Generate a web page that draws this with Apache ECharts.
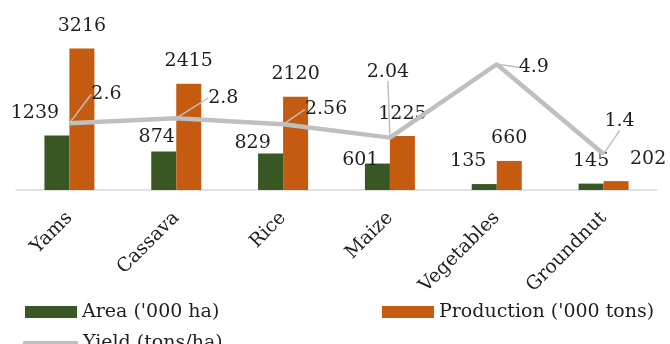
<!DOCTYPE html>
<html>
<head>
<meta charset="utf-8">
<script src="https://cdn.jsdelivr.net/npm/echarts@6/dist/echarts.min.js"></script>
<style>
html,body{margin:0;padding:0;background:#fff;}
#chart{width:670px;height:344px;}
</style>
</head>
<body>
<div id="chart"></div>
<script>
// ---- data ----
const categories = ['Yams', 'Cassava', 'Rice', 'Maize', 'Vegetables', 'Groundnut'];
const areaValues = [1239, 874, 829, 601, 135, 145];          // '000 ha
const productionValues = [3216, 2415, 2120, 1225, 660, 202];  // '000 tons
const yieldValues = [2.6, 2.8, 2.56, 2.04, 4.9, 1.4];         // tons/ha
const seriesNames = ["Area ('000 ha)", "Production ('000 tons)", 'Yield (tons/ha)'];

// ---- label nudges (styling only) ----
const areaLabelOffsets = [[-22, 0], [-7, 8], [-18, 12], [-17, 19], [-16, 0], [0, 0]];
const prodLabelOffsets = [[0, 0], [0, 0], [0, 0], [0, 0], [0, 0], [32, 0]];
const yieldLabelOffsets = [[37, -14], [47, -5], [43, 0], [-2, -51], [37, 18], [16, -18]];

const FONT = 'DejaVu Serif';
const TXT = '#1f1f1f';
const GREEN = '#385723';
const ORANGE = '#c55a11';
const GRAY = '#bfbfbf';

const chart = echarts.init(document.getElementById('chart'), null, {renderer: 'canvas'});

const labelBase = {show: true, position: 'top', distance: 13, color: TXT, fontFamily: FONT, fontSize: 19};

chart.setOption({
  animation: false,
  backgroundColor: '#fff',
  grid: {left: 16, right: 13, top: 36, bottom: 154, containLabel: false},
  legend: [
    {data: [seriesNames[0]], left: 20, top: 297, itemWidth: 52, itemHeight: 12, icon: 'rect',
     textStyle: {fontFamily: FONT, fontSize: 19, color: TXT, lineHeight: 20}},
    {data: [seriesNames[1]], left: 377, top: 297, itemWidth: 52, itemHeight: 12, icon: 'rect',
     textStyle: {fontFamily: FONT, fontSize: 19, color: TXT, lineHeight: 20}},
    {data: [seriesNames[2]], left: 18, top: 328, itemWidth: 55, itemHeight: 4, icon: 'roundRect',
     textStyle: {fontFamily: FONT, fontSize: 19, color: TXT, lineHeight: 20}}
  ],
  xAxis: {
    type: 'category',
    data: categories,
    boundaryGap: true,
    axisLine: {show: true, lineStyle: {color: '#d9d9d9', width: 1.5}},
    axisTick: {show: false},
    axisLabel: {rotate: 45, margin: 25, color: TXT, fontFamily: FONT, fontSize: 19, interval: 0}
  },
  yAxis: [
    {type: 'value', min: 0, max: 3500, show: false, splitLine: {show: false}},
    {type: 'value', min: 0, max: 6, show: false, splitLine: {show: false}}
  ],
  series: [
    {
      name: seriesNames[0], type: 'bar', yAxisIndex: 0, barWidth: 25, barGap: '0%',
      itemStyle: {color: GREEN},
      label: labelBase,
      data: areaValues.map((v, i) => ({value: v, label: {offset: areaLabelOffsets[i]}}))
    },
    {
      name: seriesNames[1], type: 'bar', yAxisIndex: 0, barWidth: 25, barGap: '0%',
      itemStyle: {color: ORANGE},
      label: labelBase,
      data: productionValues.map((v, i) => ({value: v, label: {offset: prodLabelOffsets[i]}}))
    },
    {
      name: seriesNames[2], type: 'line', yAxisIndex: 1,
      symbol: 'circle', symbolSize: 1, showSymbol: true,
      itemStyle: {color: GRAY},
      lineStyle: {color: GRAY, width: 4.5},
      label: {show: true, position: 'top', distance: 5, color: TXT, fontFamily: FONT, fontSize: 19},
      labelLine: {show: true, lineStyle: {color: GRAY, width: 1.5}},
      labelLayout: function (params) {
        const o = yieldLabelOffsets[params.dataIndex];
        return {dx: o[0], dy: o[1]};
      },
      z: 3,
      data: yieldValues
    }
  ]
});
</script>
</body>
</html>
